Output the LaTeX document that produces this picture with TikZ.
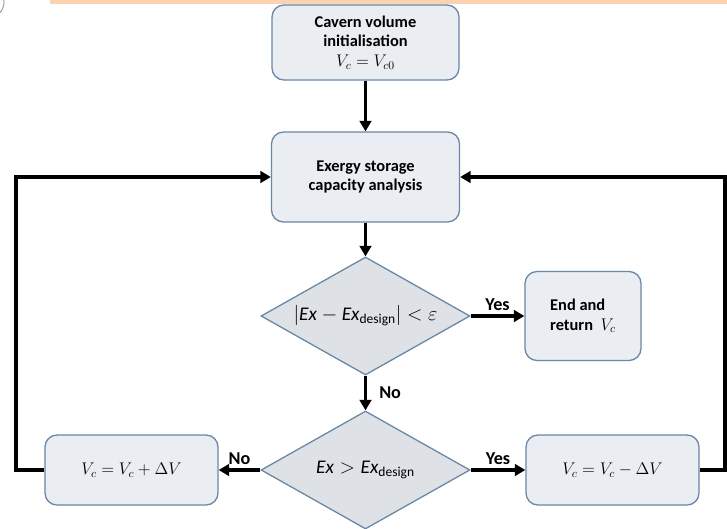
\documentclass[tikz,border=0pt]{standalone}
\usepackage{amsmath}
\usepackage{fontspec}
\setmainfont{Carlito}
\usepackage{tikz}
\usetikzlibrary{shapes.geometric}
\usetikzlibrary{arrows.meta}

\definecolor{boxfill}{HTML}{EAEEF2}
\definecolor{boxline}{HTML}{6A87A5}
\definecolor{diamondfill}{HTML}{DEE1E5}
\definecolor{barorange}{HTML}{FBD3B0}

\tikzset{
  procbox/.style={draw=boxline, fill=boxfill, line width=1.1pt, rounded corners=0.36cm, align=center, font=\fontsize{14}{17}\selectfont\bfseries},
  decision/.style={diamond, draw=boxline, fill=diamondfill, line width=1.1pt, aspect=1.77, minimum width=6.27cm, minimum height=3.54cm, inner sep=0pt, font=\fontsize{16.5}{19}\selectfont},
  flow/.style={line width=2.8pt, arrows = {-Triangle[width=10pt, length=9pt]}},
  branch/.style={font=\fontsize{15.5}{18}\selectfont\bfseries},
}

\begin{document}
\begin{tikzpicture}[x=0.03cm, y=-0.03cm]
\useasboundingbox (0, 0) rectangle (727, 528);
\fill[barorange] (50, 0) rectangle (727, 4);
\begin{scope}
\clip (0, 0) rectangle (727, 528);
\draw[gray!80, line width=0.8pt] (-12, 2) circle[radius=16];
\end{scope}

\node[procbox, minimum width=5.61cm, minimum height=2.25cm] (init) at (365.5, 42.5) {Cavern volume\\initialisation\\$V_c = V_{c0}$};
\node[procbox, minimum width=5.64cm, minimum height=2.7cm] (exergy) at (365.5, 177) {Exergy storage\\capacity analysis};
\node[decision] (check1) at (365.5, 316) {$\left|\mathit{Ex} - \mathit{Ex}_{\text{design}}\right| < \varepsilon$};
\node[procbox, minimum width=3.48cm, minimum height=2.67cm, align=left] (finish) at (583, 316) {End and\\return \ $V_c$};
\node[decision] (check2) at (365.5, 470) {$\mathit{Ex} > \mathit{Ex}_{\text{design}}$};
\node[procbox, minimum width=5.19cm, minimum height=2.1cm] (increase) at (131.5, 470) {$V_c = V_c + \Delta V$};
\node[procbox, minimum width=5.19cm, minimum height=2.1cm] (decrease) at (612.5, 470) {$V_c = V_c - \Delta V$};
\coordinate (leftturn) at (16, 177);
\coordinate (rightturn) at (725, 177);

\draw[flow] (init) -- (exergy);
\draw[flow] (exergy) -- (check1);
\draw[flow] (check1) -- node[branch, above] (yes1) {Yes} (finish);
\draw[flow] (check1) -- node[branch, right, xshift=7pt] (no1) {No} (check2);
\draw[flow] (check2) -- node[branch, above] (no2) {No} (increase);
\draw[flow] (check2) -- node[branch, above] (yes2) {Yes} (decrease);
\draw[flow] (increase.west) -| (leftturn) -- (exergy.west);
\draw[flow] (decrease.east) -| (rightturn) -- (exergy.east);
\end{tikzpicture}
\end{document}
